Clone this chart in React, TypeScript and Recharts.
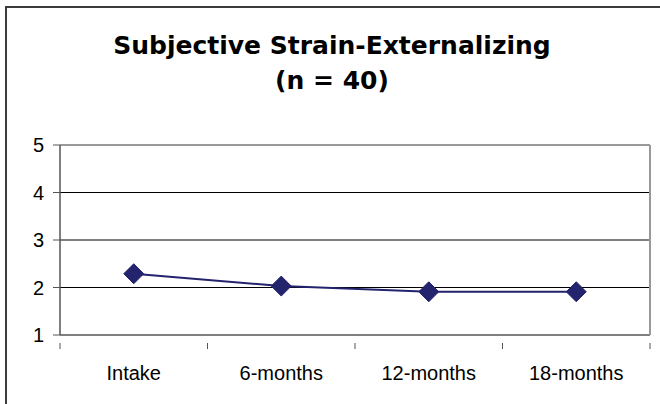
import React from "react";
import {LineChart, Line, XAxis, YAxis, ReferenceLine} from "recharts";

const categories = ["Intake", "6-months", "12-months", "18-months"];
const strainValues = [2.29, 2.03, 1.91, 1.91];
const yTicks = [1, 2, 3, 4, 5];

const data = categories.map((name, i) => ({name, value: strainValues[i]}));

const W = 660;
const H = 404;
const margin = {top: 145, right: 9, bottom: 29, left: 10};
const yAxisWidth = 50;
const plotWidth = W - margin.left - margin.right - yAxisWidth - 1;
const band = plotWidth / categories.length;

const navy = "#23236E";
const tickFont = "'Liberation Sans', Arial, sans-serif";

const Diamond = (props: any) => {
    const {cx, cy, index} = props;
    if (cx == null || cy == null) return null;
    const r = 10;
    return (
        <polygon
            key={`d-${index}`}
            points={`${cx},${cy - r} ${cx + r},${cy} ${cx},${cy + r} ${cx - r},${cy}`}
            fill={navy}
            stroke={navy}
        />
    );
};

// label at the category centre, tick mark at the category boundary
const XTick = (props: any) => {
    const {x, y, payload, index} = props;
    return (
        <g>
            {index === 0 && <line x1={x - band / 2} x2={x - band / 2} y1={y} y2={y + 6} stroke="#555" />}
            <line x1={x + band / 2} x2={x + band / 2} y1={y} y2={y + 6} stroke="#555" />
            <text x={x} y={y + 37} textAnchor="middle" fontFamily={tickFont} fontSize={20} fill="#000">
                {payload.value}
            </text>
        </g>
    );
};

export default function App() {
    return (
        <div style={{position: "fixed", left: 0, top: 0, width: W, height: H, background: "#fff"}}>
            <div
                style={{
                    position: "absolute",
                    left: 5,
                    top: 6,
                    right: 0,
                    bottom: 0,
                    borderLeft: "2px solid #3c3c3c",
                    borderTop: "2px solid #3c3c3c",
                }}
            />
            <div
                style={{
                    position: "absolute",
                    left: 0,
                    top: 28,
                    width: 664,
                    textAlign: "center",
                    fontFamily: "'DejaVu Sans', Verdana, sans-serif",
                    fontWeight: "bold",
                    fontSize: 25,
                    lineHeight: "35px",
                    color: "#000",
                }}
            >
                <div>Subjective Strain-Externalizing</div>
                <div>(n = 40)</div>
            </div>
            <div style={{position: "absolute", left: 0, top: 0}}>
                <LineChart width={W} height={H} data={data} margin={margin}>
                    <XAxis
                        dataKey="name"
                        scale="band"
                        height={40}
                        axisLine={{stroke: "#555", strokeWidth: 1.5}}
                        tickLine={false}
                        tick={<XTick />}
                        interval={0}
                    />
                    <YAxis
                        yAxisId="left"
                        width={yAxisWidth}
                        domain={[1, 5]}
                        ticks={yTicks}
                        interval={0}
                        tickSize={7}
                        tickMargin={9}
                        axisLine={{stroke: "#555", strokeWidth: 1.5}}
                        tickLine={{stroke: "#555"}}
                        tick={{fontFamily: tickFont, fontSize: 20, fill: "#000"}}
                    />
                    <YAxis
                        yAxisId="right"
                        orientation="right"
                        width={1}
                        domain={[1, 5]}
                        tick={false}
                        tickLine={false}
                        axisLine={{stroke: "#999", strokeWidth: 2}}
                    />
                    {yTicks.slice(1, -1).map((t) => (
                        <ReferenceLine key={t} yAxisId="left" y={t} stroke="#000" strokeWidth={1} />
                    ))}
                    <ReferenceLine yAxisId="left" y={yTicks[yTicks.length - 1]} stroke="#999" strokeWidth={2} />
                    <Line
                        yAxisId="left"
                        type="linear"
                        dataKey="value"
                        stroke={navy}
                        strokeWidth={2}
                        dot={Diamond}
                        activeDot={false}
                        isAnimationActive={false}
                    />
                </LineChart>
            </div>
        </div>
    );
}
